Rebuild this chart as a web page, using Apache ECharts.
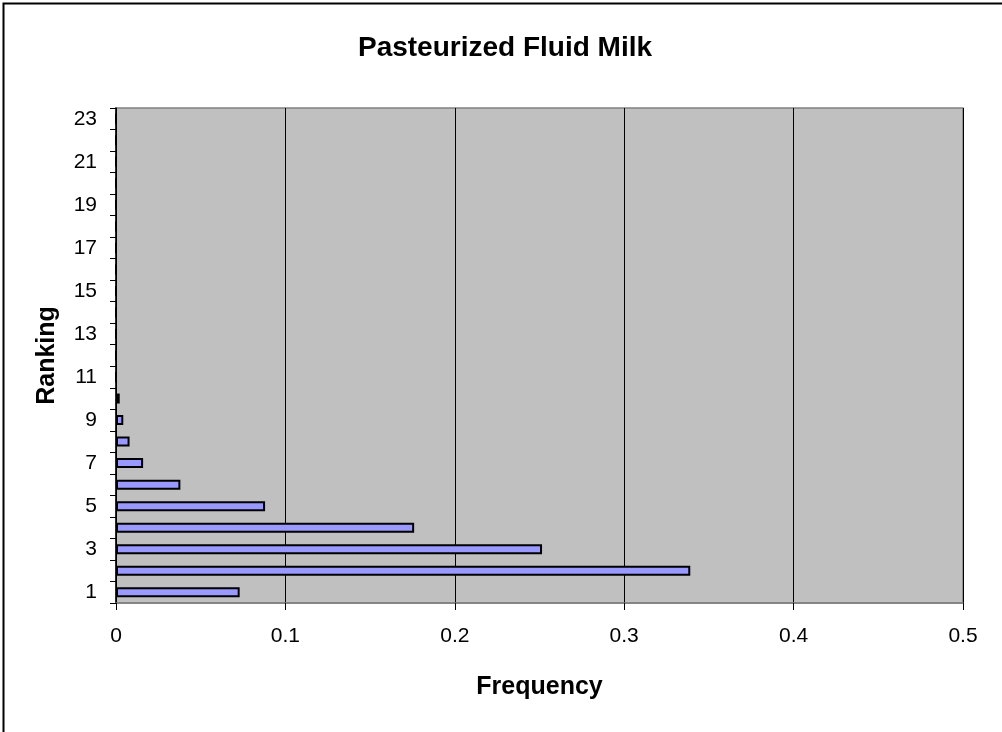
<!DOCTYPE html>
<html>
<head>
<meta charset="utf-8">
<script src="https://cdn.jsdelivr.net/npm/echarts@6/dist/echarts.min.js"></script>
<style>
html,body{margin:0;padding:0;background:#fff;}
#c{width:1002px;height:732px;}
</style>
</head>
<body>
<div id="c"></div>
<script>
var categories = ['1','2','3','4','5','6','7','8','9','10','11','12','13','14','15','16','17','18','19','20','21','22','23'];
var frequency = [0.073, 0.339, 0.2515, 0.176, 0.088, 0.038, 0.016, 0.008, 0.0043, 0.0022, 0, 0, 0, 0, 0, 0, 0, 0, 0, 0, 0, 0, 0];
var xTicks = [0, 0.1, 0.2, 0.3, 0.4, 0.5];

var chart = echarts.init(document.getElementById('c'), null, {renderer: 'canvas'});
var font = 'Liberation Sans, Arial, sans-serif';
chart.setOption({
  animation: false,
  backgroundColor: '#fff',
  title: {
    text: 'Pasteurized Fluid Milk',
    left: 500, top: 29, textAlign: 'center',
    textStyle: {fontFamily: font, fontSize: 28, fontWeight: 'bold', color: '#000'}
  },
  graphic: [{
    type: 'rect', shape: {x: 3.5, y: 3.5, width: 1100, height: 800},
    style: {fill: 'none', stroke: '#000', lineWidth: 2}, silent: true, z: 100
  }],
  grid: {
    left: 116, right: 39, top: 108, bottom: 129,
    show: true, backgroundColor: '#C0C0C0', borderColor: '#808080', borderWidth: 1.5
  },
  xAxis: {
    type: 'value', min: xTicks[0], max: xTicks[xTicks.length - 1], interval: 0.1,
    name: 'Frequency', nameLocation: 'middle', nameGap: 72,
    nameTextStyle: {fontFamily: font, fontSize: 25, fontWeight: 'bold', color: '#000'},
    axisLine: {show: true, lineStyle: {color: '#808080', width: 1.5}},
    axisTick: {show: true, length: 7, lineStyle: {color: '#000'}},
    axisLabel: {fontFamily: font, fontSize: 21, color: '#000', margin: 23,
      formatter: function (v) { return String(Math.round(v * 10) / 10); }},
    splitLine: {show: true, lineStyle: {color: '#000', width: 1}}
  },
  yAxis: {
    type: 'category', data: categories,
    name: 'Ranking', nameLocation: 'middle', nameGap: 56, nameRotate: 90,
    nameTextStyle: {fontFamily: font, fontSize: 25, fontWeight: 'bold', color: '#000'},
    axisLine: {show: true, lineStyle: {color: '#000', width: 1.5}},
    axisTick: {show: true, length: 6, interval: 0, alignWithLabel: false, lineStyle: {color: '#000'}},
    axisLabel: {fontFamily: font, fontSize: 21, color: '#000', margin: 19, interval: 1},
    splitLine: {show: false}
  },
  series: [{
    type: 'bar', data: frequency, barWidth: 10,
    itemStyle: {color: '#9999FF', borderColor: '#000', borderWidth: 2}
  }]
});
</script>
</body>
</html>
